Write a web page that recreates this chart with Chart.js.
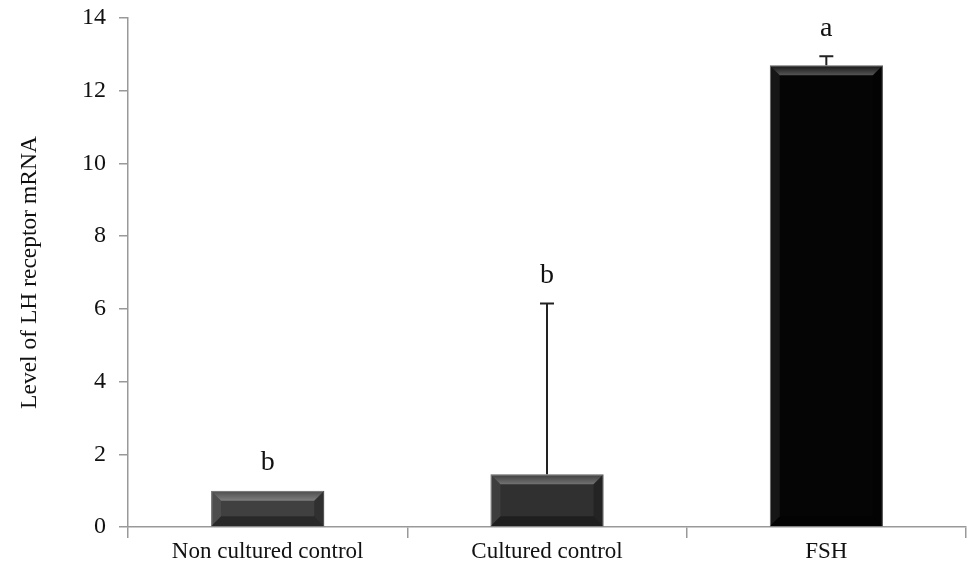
<!DOCTYPE html>
<html>
<head>
<meta charset="utf-8">
<script src="https://cdn.jsdelivr.net/npm/chart.js@4"></script>
<style>
  html, body { margin: 0; padding: 0; background: #fff; }
  #wrap { width: 968px; height: 576px; }
</style>
</head>
<body>
<div id="wrap"><canvas id="lhchart"></canvas></div>
<script>
const categories = ['Non cultured control', 'Cultured control', 'FSH'];
const means = [1.0, 1.45, 12.7];
const errors = [0, 4.7, 0.25];
const letters = ['b', 'b', 'a'];
const barColors = ['#404040', '#303030', '#050505'];

const serif = "'Times New Roman', 'Liberation Serif', serif";

// bevel look of the bars + upward error bars + letters
const decorate = {
    id: 'decorate',
    afterDatasetsDraw(chart) {
        const ctx = chart.ctx;
        const meta = chart.getDatasetMeta(0);
        const yScale = chart.scales.y;
        meta.data.forEach((bar, i) => {
            const left = bar.x - bar.width / 2;
            const right = bar.x + bar.width / 2;
            const top = bar.y;
            const bottom = bar.base;
            const b = Math.min(10, (bottom - top) / 3);

            ctx.save();
            // top strip lighter
            const g = ctx.createLinearGradient(0, top, 0, top + b);
            g.addColorStop(0, 'rgba(255,255,255,0.06)');
            g.addColorStop(1, 'rgba(255,255,255,0.32)');
            ctx.fillStyle = g;
            ctx.beginPath();
            ctx.moveTo(left, top);
            ctx.lineTo(right, top);
            ctx.lineTo(right - b, top + b);
            ctx.lineTo(left + b, top + b);
            ctx.closePath();
            ctx.fill();
            // bottom strip darker
            ctx.fillStyle = 'rgba(0,0,0,0.35)';
            ctx.beginPath();
            ctx.moveTo(left, bottom);
            ctx.lineTo(right, bottom);
            ctx.lineTo(right - b, bottom - b);
            ctx.lineTo(left + b, bottom - b);
            ctx.closePath();
            ctx.fill();
            // sides
            ctx.fillStyle = 'rgba(255,255,255,0.07)';
            ctx.beginPath();
            ctx.moveTo(left, top);
            ctx.lineTo(left + b, top + b);
            ctx.lineTo(left + b, bottom - b);
            ctx.lineTo(left, bottom);
            ctx.closePath();
            ctx.fill();
            ctx.fillStyle = 'rgba(0,0,0,0.25)';
            ctx.beginPath();
            ctx.moveTo(right, top);
            ctx.lineTo(right - b, top + b);
            ctx.lineTo(right - b, bottom - b);
            ctx.lineTo(right, bottom);
            ctx.closePath();
            ctx.fill();

            // error bar
            let capY = top;
            if (errors[i] > 0) {
                capY = yScale.getPixelForValue(means[i] + errors[i]);
                ctx.strokeStyle = '#222';
                ctx.lineWidth = 2;
                ctx.beginPath();
                ctx.moveTo(bar.x, top);
                ctx.lineTo(bar.x, capY);
                ctx.moveTo(bar.x - 7, capY);
                ctx.lineTo(bar.x + 7, capY);
                ctx.stroke();
            }

            // significance letter
            ctx.fillStyle = '#111';
            ctx.font = '28px ' + serif;
            ctx.textAlign = 'center';
            ctx.textBaseline = 'middle';
            ctx.fillText(letters[i], bar.x, capY - 28);
            ctx.restore();
        });
    }
};

new Chart(document.getElementById('lhchart'), {
    type: 'bar',
    data: {
        labels: categories,
        datasets: [{
            data: means,
            backgroundColor: barColors,
            borderColor: '#555',
            borderWidth: 1,
            barPercentage: 0.405,
            categoryPercentage: 1.0
        }]
    },
    options: {
        responsive: true,
        maintainAspectRatio: false,
        animation: false,
        layout: { padding: { left: 8, right: 2, top: 18, bottom: 0 } },
        plugins: {
            legend: { display: false },
            tooltip: { enabled: false }
        },
        scales: {
            x: {
                offset: true,
                grid: {
                    offset: true,
                    drawOnChartArea: false,
                    color: '#999',
                    lineWidth: 1.5,
                    tickLength: 11
                },
                border: { color: '#999', width: 1.5 },
                ticks: {
                    color: '#111',
                    padding: 0,
                    font: { family: serif, size: 23 }
                },
                afterFit(scale) { scale.height = 49; }
            },
            y: {
                min: 0,
                max: 14,
                ticks: {
                    stepSize: 2,
                    color: '#111',
                    padding: 13,
                    font: { family: serif, size: 24 }
                },
                grid: {
                    drawOnChartArea: false,
                    color: '#999',
                    lineWidth: 1.5,
                    tickLength: 9
                },
                border: { color: '#999', width: 1.5 },
                title: {
                    display: true,
                    text: 'Level of LH receptor mRNA',
                    color: '#111',
                    padding: { top: 8, bottom: 0 },
                    font: { family: serif, size: 23.5 }
                },
                afterFit(scale) {
                    scale.width = 120;
                    scale.paddingTop = 0;
                    scale.paddingBottom = 0;
                }
            }
        }
    },
    plugins: [decorate]
});
</script>
</body>
</html>
